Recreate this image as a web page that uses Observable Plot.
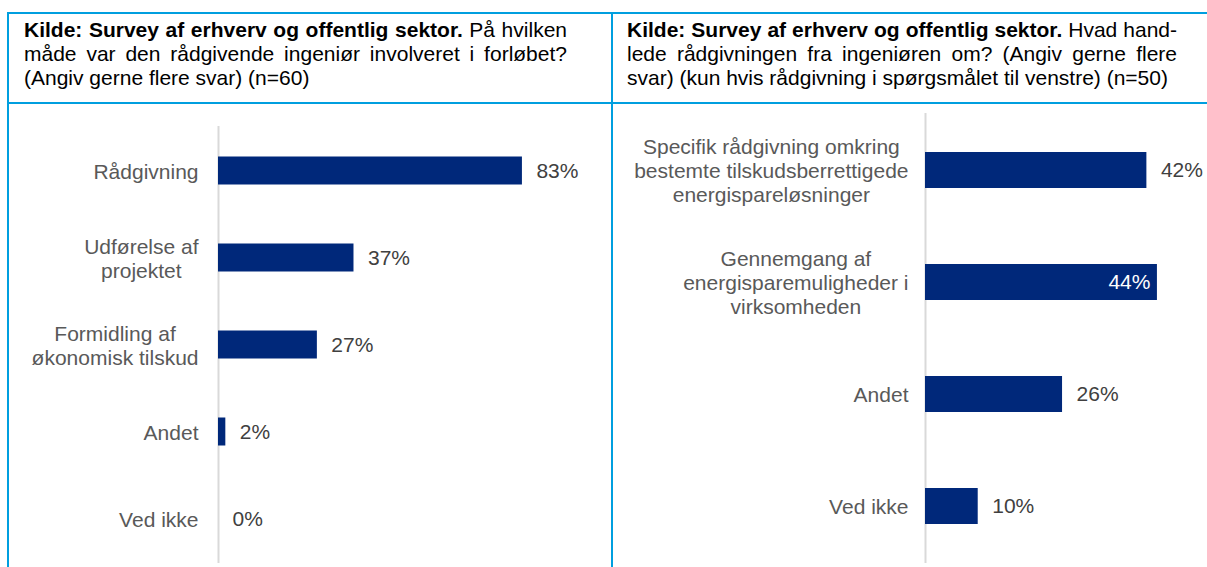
<!DOCTYPE html>
<html><head><meta charset="utf-8">
<script src="https://cdn.jsdelivr.net/npm/d3@7"></script>
<script src="https://cdn.jsdelivr.net/npm/@observablehq/plot@0.6"></script>
<style>
body{margin:0;background:#fff;}
#root{position:relative;width:1207px;height:567px;overflow:hidden;font-family:"Liberation Sans",Arial,sans-serif;}
.line{position:absolute;background:#009FDF;}
.hdr{position:absolute;font-size:21px;line-height:24px;color:#000;}
.hdr .j{text-align:justify;text-align-last:justify;white-space:nowrap;}
.hdr .n{white-space:nowrap;}
.plot{position:absolute;top:104px;}
</style></head><body>
<div id="root">
  <div class="line" style="left:7px;top:12px;width:1200px;height:2px"></div>
  <div class="line" style="left:7px;top:102px;width:1200px;height:2px"></div>
  <div class="line" style="left:7px;top:12px;width:2px;height:555px"></div>
  <div class="line" style="left:611px;top:12px;width:2px;height:555px"></div>
  <div class="hdr" id="hdrLeft" style="left:24px;top:18px;width:543px"></div>
  <div class="hdr" id="hdrRight" style="left:627px;top:18px;width:550px"></div>
  <div class="plot" id="plotLeft" style="left:9px"></div>
  <div class="plot" id="plotRight" style="left:614px"></div>
</div>
<script>
// ---- data ----
const sourceLabel = "Kilde: Survey af erhverv og offentlig sektor.";
const leftQuestionLines = ["På hvilken", "måde var den rådgivende ingeniør involveret i forløbet?", "(Angiv gerne flere svar) (n=60)"];
const rightQuestionLines = ["Hvad hand-", "lede rådgivningen fra ingeniøren om? (Angiv gerne flere", "svar) (kun hvis rådgivning i spørgsmålet til venstre) (n=50)"];

const leftCategories = ["Rådgivning", "Udførelse af\nprojektet", "Formidling af\nøkonomisk tilskud", "Andet", "Ved ikke"];
const leftValues = [83, 37, 27, 2, 0];

const rightCategories = ["Specifik rådgivning omkring\nbestemte tilskudsberrettigede\nenergispareløsninger", "Gennemgang af\nenergisparemuligheder i\nvirksomheden", "Andet", "Ved ikke"];
const rightValues = [42, 44, 26, 10];

// ---- headers ----
function header(el, lines) {
  const root = d3.select(el);
  lines.forEach((ln, i) => {
    const div = root.append("div").attr("class", i < 2 ? "j" : "n");
    if (i === 0) { div.append("b").text(sourceLabel); div.append("span").text(" " + ln); }
    else div.text(ln);
  });
}
header("#hdrLeft", leftQuestionLines);
header("#hdrRight", rightQuestionLines);

// ---- charts ----
function chart(cats, vals, o) {
  const data = cats.map((c, i) => ({cat: c, value: vals[i]}));
  const maxV = d3.max(vals);
  const isInside = d => o.insideMax && d.value === maxV;
  return Plot.plot({
    width: o.width, height: 463,
    marginLeft: o.marginLeft, marginRight: 0, marginTop: o.marginTop, marginBottom: 4,
    style: {fontFamily: "'Liberation Sans', Arial, sans-serif", fontSize: "21px", color: "#595959", background: "transparent", overflow: "visible"},
    x: {domain: [0, o.xMax], axis: null},
    y: {domain: cats, padding: 0, axis: null},
    marks: [
      Plot.ruleX([0], {stroke: "#D9D9D9", strokeWidth: 2}),
      Plot.barX(data, {x: "value", y: "cat", fill: "#00287A", insetTop: o.inset, insetBottom: o.inset}),
      Plot.axisY({tickSize: 0, tickPadding: o.pad, fontSize: 21, lineHeight: 1.15, fill: "#595959", label: null}),
      Plot.text(data.filter(d => !isInside(d)), {x: "value", y: "cat", text: d => d.value + "%", dx: 14, textAnchor: "start", fill: "#404040", fontSize: 21}),
      Plot.text(data.filter(isInside), {x: "value", y: "cat", text: d => d.value + "%", dx: -7, textAnchor: "end", fill: "#ffffff", fontSize: 21})
    ]
  });
}

function centerLines(svg) {
  d3.select(svg).selectAll('g[aria-label="y-axis tick label"] text').each(function() {
    const tspans = this.querySelectorAll("tspan");
    if (tspans.length < 2) return;
    const W = d3.max(Array.from(tspans, t => t.getComputedTextLength()));
    this.setAttribute("text-anchor", "middle");
    tspans.forEach(t => t.setAttribute("x", -W / 2));
  });
}

const left = chart(leftCategories, leftValues, {width: 603, marginLeft: 209, marginTop: 22, xMax: 107.6, inset: 29.5, pad: 20});
document.getElementById("plotLeft").append(left);
centerLines(left);

const right = chart(rightCategories, rightValues, {width: 593, marginLeft: 311, marginTop: 9, xMax: 53.5, inset: 38, pad: 17, insideMax: true});
document.getElementById("plotRight").append(right);
centerLines(right);
</script>
</body></html>
